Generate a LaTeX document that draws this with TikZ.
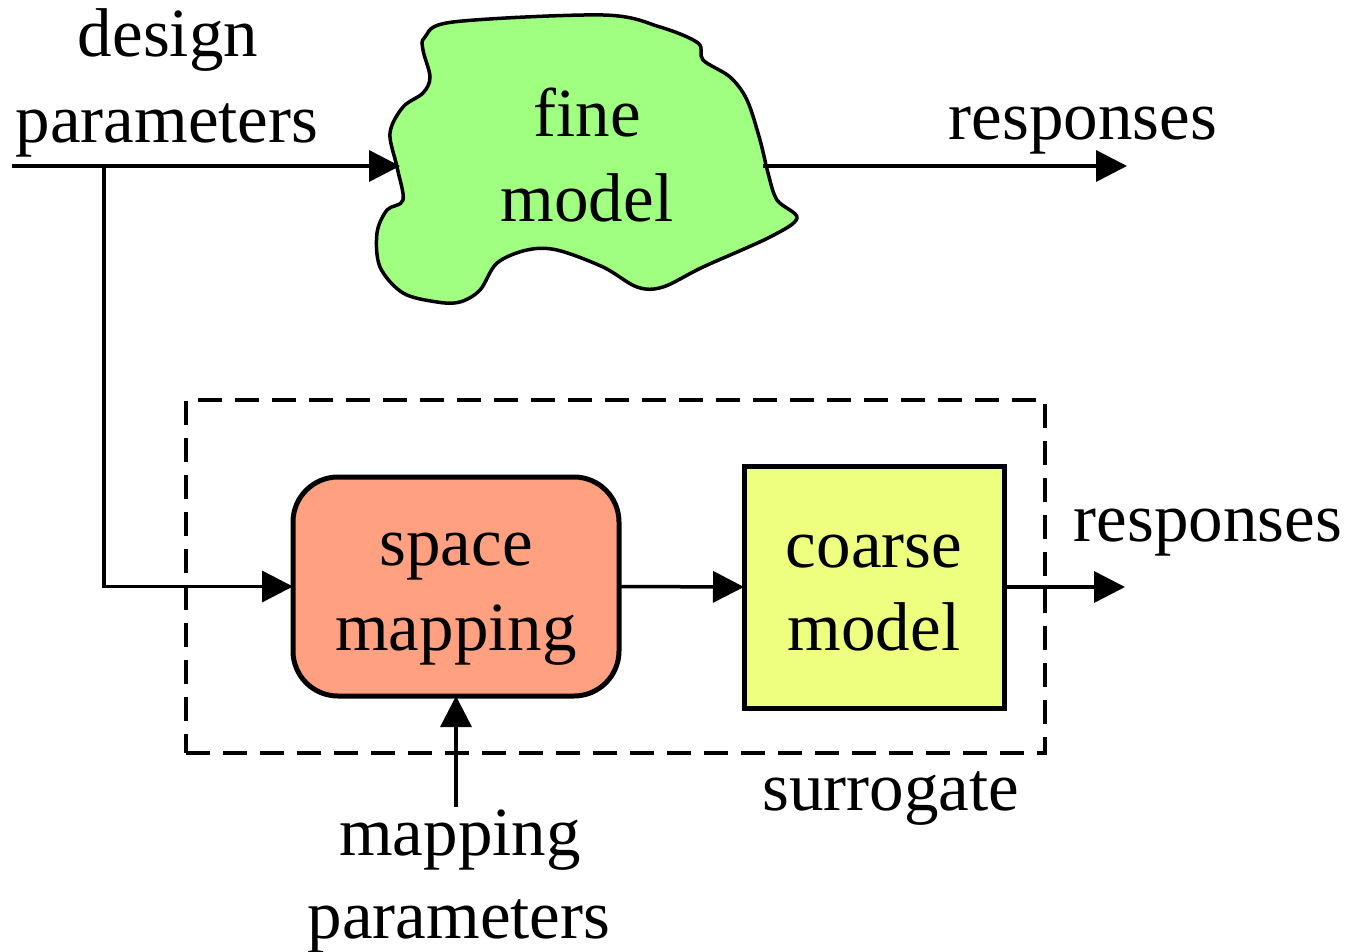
\documentclass[tikz,border=0pt]{standalone}
\usepackage{fontspec}
\setmainfont{Liberation Serif}
\newfontfamily\diagfont{Liberation Serif}
\usetikzlibrary{arrows.meta}
\definecolor{cloudgreen}{RGB}{160,255,128}
\definecolor{salmonfill}{RGB}{255,160,128}
\definecolor{lemonfill}{RGB}{238,255,128}
\begin{document}
\begin{tikzpicture}[x=1pt,y=-1pt,
  lbl/.style={font=\diagfont\fontsize{69}{80}\selectfont, inner sep=0pt, anchor=base},
  conn/.style={line width=3.5pt, -{Triangle[length=31pt,width=31pt]}},
  blockbox/.style={draw, line width=5pt, inner sep=0pt, outer sep=0pt},
  dashbox/.style={draw, line width=3.5pt, dash pattern=on 24pt off 13pt, inner sep=0pt, outer sep=0pt}
]
\useasboundingbox (0,0) rectangle (1352,952);

% fine model cloud
\draw[line width=3.5pt, fill=cloudgreen] plot[smooth cycle, tension=0.55] coordinates {(425,37) (453,22) (603,15) (660,27) (698,43) (703,60) (730,77) (747,100) (760,140) (768,173) (777,200) (797,218) (770,237) (703,267) (663,287) (637,287) (603,267) (557,250) (527,250) (497,263) (480,290) (460,302) (437,302) (403,293) (380,267) (377,233) (387,210) (403,200) (397,167) (390,133) (403,107) (423,93) (430,77) (423,50)};

% surrogate dashed box
\node[dashbox, minimum width=859pt, minimum height=353pt] (surbox) at (615.5,576.5) {};

% blocks
\node[blockbox, fill=salmonfill, rounded corners=45pt, minimum width=326pt, minimum height=219pt] (sm) at (456,586.5) {};
\node[blockbox, fill=lemonfill, minimum width=260pt, minimum height=242pt] (cm) at (874,587) {};

% texts
\node[lbl] (fine1) at (587,137) {fine};
\node[lbl] (fine2) at (587,222) {model};
\node[lbl] (dp1) at (168,57) {design};
\node[lbl] (dp2) at (167,143) {parameters};
\node[lbl] (resp1) at (1083,140) {responses};
\node[lbl] (resp2) at (1208,541) {responses};
\node[lbl] (sm1) at (456,565) {space};
\node[lbl] (sm2) at (456,650) {mapping};
\node[lbl] (cm1) at (874,567) {coarse};
\node[lbl] (cm2) at (874,650) {model};
\node[lbl] (sur) at (891,810) {surrogate};
\node[lbl] (mp1) at (460,855) {mapping};
\node[lbl] (mp2) at (459,938) {parameters};

% connector points
\coordinate (dpStart) at (12,166);
\coordinate (split) at (104,166);
\coordinate (fineIn) at (400,166);
\coordinate (fineOut) at (763,166);
\coordinate (respEnd) at (1127,166);
\coordinate (respEndB) at (1125,587);
\coordinate (mpStart) at (456,807);

% connectors
\draw[conn] (dpStart) -- (fineIn);
\draw[conn] (fineOut) -- (respEnd);
\draw[conn] (split) |- (sm.west);
\draw[conn] (sm.east) -- (cm.west);
\draw[conn] (cm.east) -- (respEndB);
\draw[conn] (mpStart) -- (sm.south);
\end{tikzpicture}
\end{document}
